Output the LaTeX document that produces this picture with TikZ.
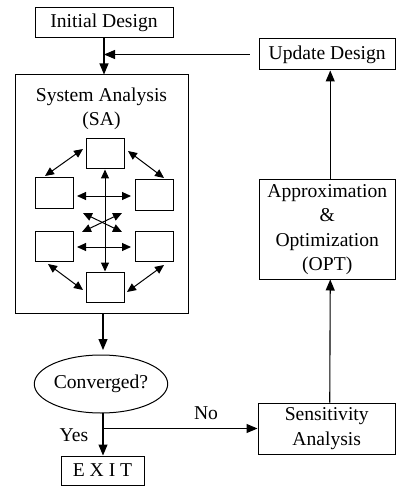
\documentclass[tikz,border=0pt]{standalone}
\usepackage{fontspec}
\setmainfont{Liberation Serif}
\usetikzlibrary{arrows.meta,shapes.geometric}
\tikzset{
  bigbox/.style={draw,line width=1pt,inner sep=0pt,align=center,font=\fontsize{19.6}{24.3}\selectfont},
  smallbox/.style={draw,line width=1pt,inner sep=0pt,minimum width=38pt,minimum height=30pt},
  lbl/.style={inner sep=0pt,font=\fontsize{19.6}{24.3}\selectfont},
  flow/.style={line width=1.1pt,-{Triangle[length=11pt,width=9pt]}},
  plain/.style={line width=1.1pt},
  inner/.style={line width=1pt,{Triangle[length=9pt,width=8pt]}-{Triangle[length=9pt,width=8pt]}}
}
\begin{document}
\begin{tikzpicture}[x=1pt,y=-1pt]
\useasboundingbox (0,0) rectangle (396,486);
% main nodes
\node[bigbox,minimum width=138pt,minimum height=30pt] (init) at (104,23) {Initial Design};
\node[bigbox,minimum width=173pt,minimum height=238pt] (sa) at (101.5,194) {};
\node[lbl,align=center] (sat) at (101.5,109) {System Analysis\\(SA)};
\node[bigbox,ellipse,minimum width=130pt,minimum height=58pt] (conv) at (101,384) {Converged?};
\node[bigbox,minimum width=83pt,minimum height=29pt] (exit) at (102.5,470.5) {E X I T};
\node[bigbox,minimum width=137.5pt,minimum height=51pt] (sens) at (326.75,428.5) {Sensitivity\\Analysis};
\node[bigbox,minimum width=136.5pt,minimum height=99pt] (opt) at (327.25,229.5) {Approximation\\\&\\Optimization\\(OPT)};
\node[bigbox,minimum width=136.5pt,minimum height=31pt] (upd) at (327.25,54.5) {Update Design};
% inner boxes
\node[smallbox] (t) at (105,154) {};
\node[smallbox] (lu) at (54.5,193) {};
\node[smallbox] (ru) at (154.5,195) {};
\node[smallbox] (ll) at (54.5,246) {};
\node[smallbox] (rl) at (154.5,246.5) {};
\node[smallbox] (b) at (105,287) {};
% inner arrows
\draw[inner] (t.south) -- (b.north);
\coordinate (hu1) at (77,196); \coordinate (hu2) at (131,196);
\coordinate (hl1) at (77,247); \coordinate (hl2) at (131,247);
\draw[inner] (hu1) -- (hu2);
\draw[inner] (hl1) -- (hl2);
\coordinate (x1) at (83,213); \coordinate (x2) at (122,232);
\coordinate (x3) at (82,232); \coordinate (x4) at (122,213);
\draw[inner] (x1) -- (x2);
\draw[inner] (x3) -- (x4);
\coordinate (d1) at (83,149); \coordinate (d2) at (45,176);
\coordinate (d3) at (128,151); \coordinate (d4) at (164,178);
\coordinate (d5) at (48,264); \coordinate (d6) at (83,290);
\coordinate (d7) at (164,265); \coordinate (d8) at (127,292);
\draw[inner] (d1) -- (d2);
\draw[inner] (d3) -- (d4);
\draw[inner] (d5) -- (d6);
\draw[inner] (d7) -- (d8);
% flow
\draw[flow] (init.south) -- (init.south |- sa.north);
\coordinate (fbs) at ([xshift=-9pt]upd.west);
\coordinate (fbe) at (init.south |- upd.west);
\draw[flow] (fbs) -- (fbe);
\coordinate (s1) at (103,313);
\coordinate (s2) at (103,350);
\draw[flow] (s1) -- (s2);
\coordinate (c1) at (103,413);
\coordinate (c2) at (103,428.5);
\draw[flow] (c1) -- (c1 |- exit.north);
\draw[flow] (c2) -- (sens.west);
\draw[flow] ([xshift=3pt]sens.north) -- ([xshift=3pt]opt.south);
\draw[flow] ([xshift=3pt]opt.north) -- ([xshift=3pt]upd.south);
\node[lbl] (no) at (206,413) {No};
\node[lbl] (yes) at (74,435) {Yes};
\end{tikzpicture}
\end{document}
